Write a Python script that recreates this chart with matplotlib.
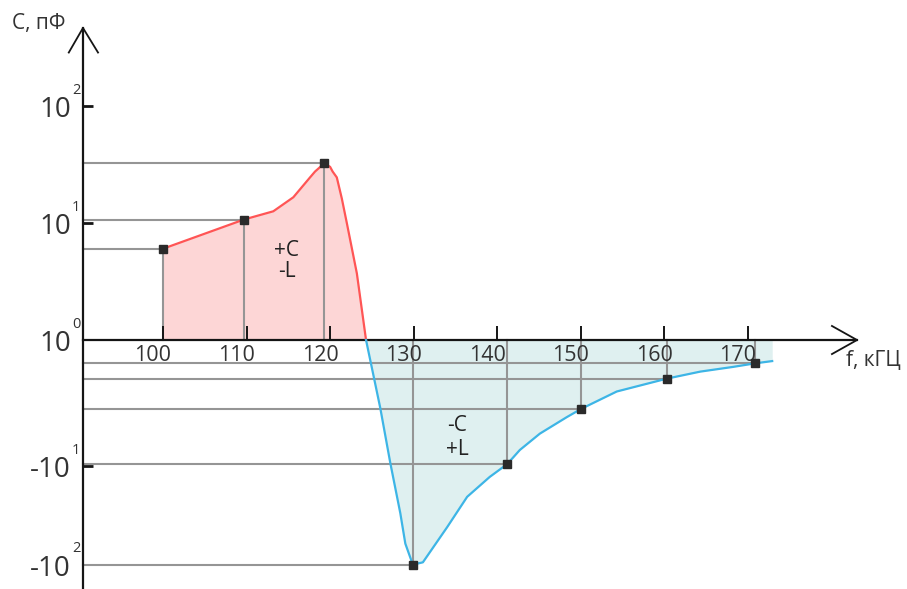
import matplotlib
matplotlib.use('Agg')
import matplotlib.pyplot as plt

plt.rcParams['font.family'] = ['Open Sans', 'DejaVu Sans']

# positive branch (+C, -L): frequency in kHz, height in decades on the drawn scale
red_f = [100.0, 109.7, 113.2, 115.6, 117.6, 118.2, 119.3, 120.0, 120.3, 120.8,
         121.4, 122.0, 123.2, 124.3]
red_u = [0.78, 1.03, 1.10, 1.22, 1.39, 1.44, 1.51, 1.48, 1.44, 1.39,
         1.21, 1.00, 0.57, 0.0]
red_pts_f = [100.0, 109.7, 119.3]
red_pts_u = [0.78, 1.03, 1.51]

# negative branch (-C, +L)
blue_f = [124.3, 126.0, 127.2, 128.4, 129.0, 129.9, 130.5, 131.1, 134.0, 136.4,
          139.1, 141.2, 142.7, 145.1, 148.3, 150.0, 154.3, 160.3, 164.3, 168.2,
          170.8, 172.9]
blue_u = [0.0, -0.58, -1.05, -1.48, -1.74, -1.92, -1.91, -1.90, -1.60, -1.34,
          -1.17, -1.06, -0.94, -0.80, -0.66, -0.59, -0.44, -0.33, -0.27, -0.23,
          -0.20, -0.18]
blue_pts_f = [129.9, 141.2, 150.0, 160.3, 170.8]
blue_pts_u = [-1.92, -1.06, -0.59, -0.33, -0.20]

x_ticks = [100, 110, 120, 130, 140, 150, 160, 170]
y_ticks = [2.0, 1.0, 0.0, -1.08, -1.92]
y_marks = [2.0, 1.0, -1.08]
y_bases = ['10', '10', '10', '-10', '-10']
y_exps = ['2', '1', '0', '1', '2']

y_axis_f = 90.43     # where the vertical axis crosses
x_tip = 183.05
y_tip = 2.667

fig = plt.figure(figsize=(9.07, 5.89), dpi=100)
ax = fig.add_axes([0, 0, 1, 1])
ax.set_xlim(80.5, 189.03)
ax.set_ylim(-2.128, 2.906)
ax.patch.set_visible(False)

ink = '#151515'
for s in ['top', 'right']:
    ax.spines[s].set_visible(False)
ax.spines['left'].set_position(('data', y_axis_f))
ax.spines['left'].set_bounds(-2.128, y_tip)
ax.spines['bottom'].set_position(('data', 0))
ax.spines['bottom'].set_bounds(y_axis_f, x_tip)
for s in ['left', 'bottom']:
    ax.spines[s].set_linewidth(1.6)
    ax.spines[s].set_color(ink)

# open arrow heads
ax.plot([y_axis_f - 1.7, y_axis_f, y_axis_f + 1.8], [y_tip - 0.21, y_tip, y_tip - 0.21],
        color=ink, lw=1.3, clip_on=False)
ax.plot([x_tip - 3.0, x_tip, x_tip - 3.0], [0.12, 0, -0.12], color=ink, lw=1.3, clip_on=False)

ax.set_xticks(x_ticks)
ax.set_xticklabels([])
ax.set_yticks(y_marks)
ax.set_yticklabels([])
ax.tick_params(axis='x', direction='in', length=10, width=1.4, color=ink)
ax.tick_params(axis='y', direction='in', length=7, width=2, color=ink)

for t in x_ticks:
    ax.annotate(str(t), (t, 0), xytext=(-10, -15), textcoords='offset pixels',
                ha='center', va='center', fontsize=15.5, color='#333333')
for u, b, e in zip(y_ticks, y_bases, y_exps):
    ax.annotate(b, (y_axis_f, u), xytext=(-12, -4), textcoords='offset pixels',
                ha='right', va='center', fontsize=20, color='#333333')
    ax.annotate(e, (y_axis_f, u), xytext=(-11, 16), textcoords='offset pixels',
                ha='left', va='center', fontsize=10.5, color='#333333')

# guide lines from each measured point to both axes
guide = '#959595'
for f, u in zip(red_pts_f + blue_pts_f, red_pts_u + blue_pts_u):
    ax.plot([y_axis_f, f], [u, u], color=guide, lw=1.5, zorder=1)
    ax.plot([f, f], [0, u], color=guide, lw=1.5, zorder=1)

ax.fill_between(red_f, red_u, 0, color='#fdd6d6', lw=0, zorder=0)
ax.fill_between(blue_f, blue_u, 0, color='#dff0f0', lw=0, zorder=0)
ax.plot(red_f, red_u, color='#ff5555', lw=1.6, zorder=3)
ax.plot(blue_f, blue_u, color='#3db5e6', lw=1.6, zorder=3)
ax.plot(red_pts_f + blue_pts_f, red_pts_u + blue_pts_u, 's', color='#2a2a2a',
        ms=6, zorder=4)

ax.text(114.8, 0.675, '+C\n-L', ha='center', va='center', fontsize=15,
        color='#222222', linespacing=1.0)
ax.text(135.2, -0.83, '-C\n+L', ha='center', va='center', fontsize=15,
        color='#222222', linespacing=1.2)

ax.text(81.9, 2.709, 'C, пФ', ha='left', va='center', fontsize=15, color='#333333')
ax.text(181.7, -0.171, 'f, кГЦ', ha='left', va='center', fontsize=15, color='#333333')

fig.savefig('out.png', dpi=100)
